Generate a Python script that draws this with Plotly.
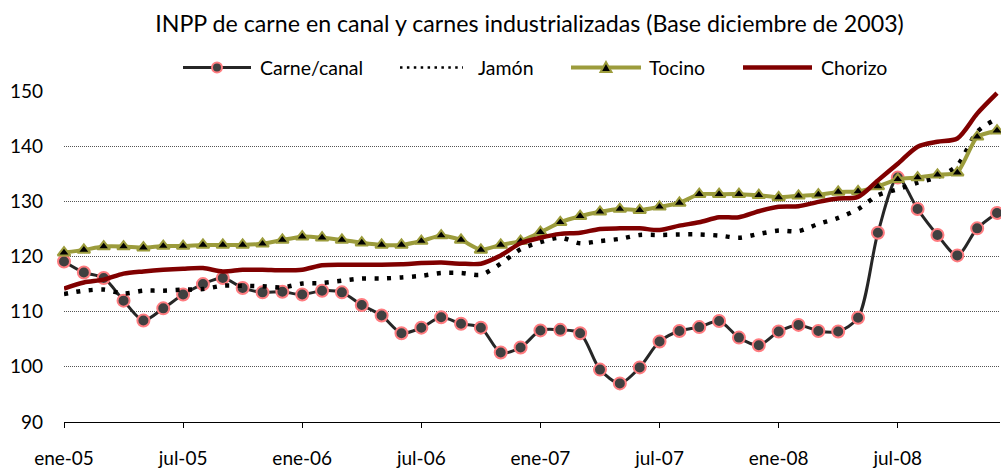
import plotly.graph_objects as go

meses = [
    "ene-05", "feb-05", "mar-05", "abr-05", "may-05", "jun-05", "jul-05", "ago-05", "sep-05", "oct-05", "nov-05", "dic-05",
    "ene-06", "feb-06", "mar-06", "abr-06", "may-06", "jun-06", "jul-06", "ago-06", "sep-06", "oct-06", "nov-06", "dic-06",
    "ene-07", "feb-07", "mar-07", "abr-07", "may-07", "jun-07", "jul-07", "ago-07", "sep-07", "oct-07", "nov-07", "dic-07",
    "ene-08", "feb-08", "mar-08", "abr-08", "may-08", "jun-08", "jul-08", "ago-08", "sep-08", "oct-08", "nov-08", "dic-08",
]

carne_canal = [
    119.1, 117.1, 116.1, 112.0, 108.4, 110.6, 113.1, 115.0, 116.1, 114.3, 113.5, 113.6,
    113.1, 113.8, 113.5, 111.2, 109.3, 106.1, 107.1, 109.0, 107.8, 107.1, 102.6, 103.5,
    106.6, 106.7, 106.1, 99.5, 97.0, 99.9, 104.6, 106.5, 107.2, 108.3, 105.3, 103.9,
    106.4, 107.6, 106.5, 106.4, 108.9, 124.3, 134.3, 128.6, 123.9, 120.2, 125.1, 127.9,
]

jamon = [
    113.2, 113.8, 114.0, 113.3, 113.8, 113.8, 114.0, 114.1, 114.7, 114.7, 114.6, 114.4,
    115.1, 115.2, 115.6, 116.0, 116.0, 116.2, 116.5, 117.0, 117.0, 116.7, 118.7, 121.3,
    122.6, 123.4, 122.4, 122.8, 123.2, 123.9, 123.9, 124.0, 124.0, 123.8, 123.4, 124.1,
    124.7, 124.6, 125.9, 127.0, 128.6, 131.1, 132.2, 133.4, 134.4, 136.5, 142.6, 145.0,
]

tocino = [
    120.7, 121.2, 121.8, 121.8, 121.6, 121.9, 121.9, 122.1, 122.1, 122.1, 122.3, 123.0,
    123.6, 123.4, 123.0, 122.5, 122.1, 122.1, 122.8, 123.8, 123.0, 121.2, 122.1, 122.8,
    124.4, 126.2, 127.3, 128.1, 128.6, 128.4, 129.0, 129.7, 131.3, 131.3, 131.3, 131.1,
    130.7, 131.0, 131.2, 131.7, 131.8, 132.7, 134.0, 134.3, 134.8, 135.2, 141.7, 142.8,
]

chorizo = [
    114.2, 115.3, 115.8, 116.9, 117.3, 117.6, 117.8, 117.9, 117.3, 117.6, 117.6, 117.5,
    117.6, 118.4, 118.5, 118.5, 118.5, 118.6, 118.8, 118.9, 118.7, 118.7, 120.2, 122.4,
    123.4, 124.1, 124.3, 125.0, 125.1, 125.1, 124.8, 125.6, 126.2, 127.1, 127.1, 128.2,
    129.0, 129.1, 129.9, 130.5, 130.8, 133.8, 136.8, 139.9, 140.8, 141.4, 145.9, 149.6,
]

etiquetas_x = ["ene-05", "jul-05", "ene-06", "jul-06", "ene-07", "jul-07", "ene-08", "jul-08"]
valores_y = [90, 100, 110, 120, 130, 140, 150]

FONT = "Lato, Open Sans, sans-serif"
C_CARNE, C_CARNE_MK, C_CARNE_OUT = "#262626", "#404040", "#FF7C80"
C_TOCINO = "#9C9C3C"
C_CHORIZO = "#800000"

W, H = 1001, 468
L, R, T, B = 64, 1, 91, 46
PW, PH = W - L - R, H - T - B


def px(xp):
    return (xp - L) / PW


def py(yp):
    return (H - B - yp) / PH


fig = go.Figure()
fig.add_trace(go.Scatter(
    x=meses, y=carne_canal, name="Carne/canal", mode="lines+markers",
    line=dict(color=C_CARNE, width=3, shape="spline", smoothing=0.8),
    marker=dict(symbol="circle", size=12, color=C_CARNE_MK, line=dict(color=C_CARNE_OUT, width=2)),
    cliponaxis=False,
))
fig.add_trace(go.Scatter(
    x=meses, y=jamon, name="Jamón", mode="lines",
    line=dict(color="#000000", width=4.5, dash="4px,8.5px", shape="spline", smoothing=0.8),
    cliponaxis=False,
))
fig.add_trace(go.Scatter(
    x=meses, y=tocino, name="Tocino", mode="lines+markers",
    line=dict(color=C_TOCINO, width=4, shape="spline", smoothing=0.5),
    marker=dict(symbol="triangle-up", size=11, color="#000000", line=dict(color=C_TOCINO, width=2)),
    cliponaxis=False,
))
fig.add_trace(go.Scatter(
    x=meses, y=chorizo, name="Chorizo", mode="lines",
    line=dict(color=C_CHORIZO, width=4.5, shape="spline", smoothing=0.8),
    cliponaxis=False,
))

# custom legend (line samples, markers, labels)
LY = 67.5
shapes = []
annotations = []
legend_items = [
    ("Carne/canal", 183, 251, 258, dict(color=C_CARNE, width=3), "circle"),
    ("Jamón", 400, 463, 476, dict(color="#000000", width=2.5, dash="2.5px,4.4px"), None),
    ("Tocino", 571, 641, 647, dict(color=C_TOCINO, width=4), "triangle"),
    ("Chorizo", 743, 812, 819, dict(color=C_CHORIZO, width=4.5), None),
]
for name, x0, x1, xt, ln, mk in legend_items:
    shapes.append(dict(type="line", xref="paper", yref="paper",
                       x0=px(x0), x1=px(x1), y0=py(LY), y1=py(LY), line=ln, layer="above"))
    xc = (x0 + x1) / 2
    if mk == "circle":
        r = 5
        shapes.append(dict(type="circle", xref="paper", yref="paper",
                           x0=px(xc - r), x1=px(xc + r), y0=py(LY + r), y1=py(LY - r),
                           fillcolor=C_CARNE_MK, line=dict(color=C_CARNE_OUT, width=2), layer="above"))
    elif mk == "triangle":
        path = "M {:.5f},{:.5f} L {:.5f},{:.5f} L {:.5f},{:.5f} Z".format(
            px(xc), py(LY - 5.5), px(xc - 5.5), py(LY + 4.5), px(xc + 5.5), py(LY + 4.5))
        shapes.append(dict(type="path", xref="paper", yref="paper", path=path,
                           fillcolor="#000000", line=dict(color=C_TOCINO, width=2), layer="above"))
    annotations.append(dict(text=name, xref="paper", yref="paper", x=px(xt), y=py(LY),
                            xanchor="left", yanchor="middle", showarrow=False,
                            font=dict(family=FONT, size=19.5, color="#000000")))

fig.update_layout(
    width=W, height=H,
    margin=dict(l=L, r=R, t=T, b=B, autoexpand=False),
    paper_bgcolor="white", plot_bgcolor="white",
    font=dict(family=FONT, color="#000000", size=19),
    title=dict(
        text="INPP de carne en canal y carnes industrializadas (Base diciembre de 2003)",
        x=529.5 / W, xanchor="center", y=1 - 24 / H, yanchor="middle", yref="container",
        font=dict(family=FONT, size=23.2, color="#000000"),
    ),
    showlegend=False,
    shapes=shapes,
    annotations=annotations,
)

fig.update_xaxes(
    type="category", range=[0, 47.15], automargin=False,
    tickmode="array", tickvals=etiquetas_x, ticktext=etiquetas_x,
    ticks="outside", ticklen=5, tickcolor="#000000", tickwidth=1,
    showline=True, linecolor="#000000", linewidth=1,
    showgrid=False, zeroline=False,
    tickfont=dict(family=FONT, size=19, color="#000000"),
    ticklabelstandoff=14,
)
fig.update_yaxes(
    range=[90, 150], tickmode="array", tickvals=valores_y, automargin=False,
    showgrid=True, gridcolor="#555555", gridwidth=1, griddash="1px,1px",
    showline=False, zeroline=False, ticks="",
    tickfont=dict(family=FONT, size=19, color="#000000"),
    ticklabelstandoff=20,
)

fig.write_html(
    "out.html",
    config={"displayModeBar": False},
    post_script="document.body.style.margin='0';document.body.style.overflow='hidden';",
)
